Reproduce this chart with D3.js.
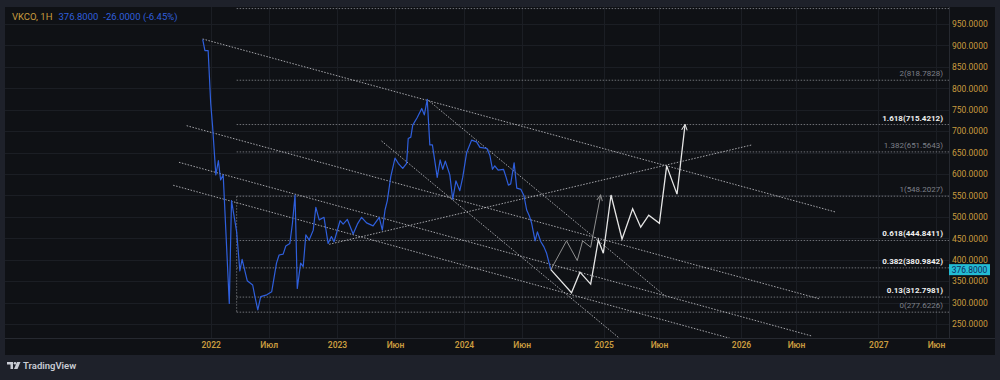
<!DOCTYPE html>
<html><head><meta charset="utf-8">
<script src="https://cdn.jsdelivr.net/npm/d3@7"></script>
<style>
body{margin:0;background:#1e212a;}
svg{display:block;font-family:Roboto,'Noto Sans',sans-serif;}
</style>
</head><body>
<svg id="c" width="1000" height="380"></svg>
<script>
// ---------- DATA ----------
const symbol = "VKCO, 1H";
const lastPrice = 376.8;
const change = "-26.0000";
const changePct = "(-6.45%)";

const priceDates = ["2021-12-07","2021-12-14","2021-12-24","2022-01-01","2022-01-07","2022-01-17","2022-01-25","2022-02-01","2022-02-09","2022-02-28",
"2022-03-07","2022-03-23","2022-04-02","2022-04-09","2022-04-25","2022-05-12","2022-05-19","2022-05-28","2022-06-06","2022-06-25",
"2022-07-09","2022-07-22","2022-07-29","2022-08-09","2022-08-16","2022-08-27","2022-09-03","2022-09-10","2022-09-16","2022-09-25",
"2022-10-02","2022-10-09","2022-10-18","2022-10-29","2022-11-05","2022-11-14","2022-11-27","2022-12-08","2022-12-17","2022-12-24",
"2022-12-31","2023-01-09","2023-01-17","2023-01-28","2023-02-12","2023-02-23","2023-03-06","2023-03-19","2023-04-05","2023-04-21",
"2023-04-29","2023-05-06","2023-05-12","2023-05-21","2023-06-01","2023-06-11","2023-06-25","2023-07-07","2023-07-12","2023-07-20",
"2023-07-26","2023-08-09","2023-08-23","2023-08-31","2023-09-09","2023-09-17","2023-09-25","2023-10-10","2023-10-19","2023-10-27",
"2023-11-04","2023-11-18","2023-11-27","2023-12-07","2023-12-19","2023-12-28","2024-01-08","2024-01-21","2024-02-03","2024-02-12",
"2024-03-01","2024-03-09","2024-03-16","2024-03-22","2024-03-31","2024-04-14","2024-04-21","2024-04-27","2024-05-03","2024-05-12",
"2024-05-19","2024-05-30","2024-06-07","2024-06-14","2024-06-21","2024-06-27","2024-07-06","2024-07-12","2024-07-21","2024-07-29",
"2024-08-05","2024-08-16"];
const priceValues = [914,888,888,765,710,598,631,586,598,298,
538,465,374,401,351,341,314,283,314,318,
325,392,411,413,432,438,485,551,333,392,
384,458,446,469,522,493,499,438,454,442,
463,491,483,494,460,483,499,486,479,499,
469,516,538,594,637,625,613,625,683,686,
714,732,753,738,774,668,668,592,633,611,
630,598,541,584,561,592,650,679,675,662,
660,644,611,619,609,611,592,574,577,626,
567,564,549,516,502,485,444,465,442,430,
415,376.8];

// projected scenarios
const mainPathDates = ["2024-08-16","2024-10-09","2024-10-31","2024-11-28","2024-12-18","2024-12-31","2025-01-21","2025-02-20","2025-03-21","2025-04-12","2025-05-04","2025-06-02","2025-06-21","2025-07-18","2025-08-08"];
const mainPathValues = [376.8,323,371,343,446,415,551,448,519,476,504,485,619,553,715.4212];
const altPathDates = ["2024-08-16","2024-09-26","2024-10-24","2024-11-07","2024-11-28","2024-12-24"];
const altPathValues = [376.8,444,398,444,429,551];

// trend lines: [startDate, startValue, endDate, endValue]
const trendLines = [
  ["2021-12-07",915,"2026-09-13",511],
  ["2021-10-18",712.7,"2026-08-02",308.4],
  ["2021-09-24",627.3,"2026-07-12",222],
  ["2021-09-06",573.7,"2025-12-03",216.7],
  ["2023-09-09",774,"2025-06-17",315.4],
  ["2023-04-27",677,"2025-02-13",216.7],
  ["2022-12-11",436,"2026-01-30",667.7]
];

// fibonacci extension
const fibStartDate = "2022-03-23";
const fibRatios = ["0","0.13","0.382","0.618","1","1.382","1.618","2","2.618"];
const fibValues = [277.6226,312.7981,380.9842,444.8411,548.2027,651.5643,715.4212,818.7828,986.0];
const fibStrong = [false,true,true,true,false,false,true,false,false];

const priceTicks = [250,300,350,400,450,500,550,600,650,700,750,800,850,900,950];
const timeTickDates = ["2022-01-01","2022-07-01","2023-01-01","2023-06-01","2024-01-01","2024-06-01","2025-01-01","2025-06-01","2026-01-01","2026-06-01","2027-01-01","2027-06-01"];
const timeTickLabels = ["2022","Июл","2023","Июн","2024","Июн","2025","Июн","2026","Июн","2027","Июн"];

// ---------- LAYOUT ----------
const parse = d3.utcParse("%Y-%m-%d");
const pane = {x0:5, y0:7, x1:949, y1:338};
const svg = d3.select("#c");

const x = d3.scaleUtc()
  .domain(timeTickDates.map(parse))
  .range([210.7,268.7,337,395,464,521.7,603.7,659,741,796,878.3,936]);
const y = d3.scaleLinear().domain([250,950]).range([324,24]);

const gold = "#c99c3f";
svg.append("rect").attr("width",1000).attr("height",380).attr("fill","#1e212a");
svg.append("rect").attr("x",5).attr("y",7).attr("width",990).attr("height",348).attr("fill","#0f1115");

svg.append("defs").html(`
  <clipPath id="pc"><rect x="${pane.x0}" y="${pane.y0}" width="${pane.x1-pane.x0}" height="${pane.y1-pane.y0}"/></clipPath>
  <marker id="arW" viewBox="0 0 10 10" refX="9" refY="5" markerWidth="7" markerHeight="7" orient="auto" markerUnits="userSpaceOnUse">
    <path d="M1,1 L9,5 L1,9" fill="none" stroke="#e6e6e6" stroke-width="1.4"/></marker>
  <marker id="arG" viewBox="0 0 10 10" refX="9" refY="5" markerWidth="7" markerHeight="7" orient="auto" markerUnits="userSpaceOnUse">
    <path d="M1,1 L9,5 L1,9" fill="none" stroke="#8f8f8f" stroke-width="1.4"/></marker>
`);

// separators
svg.append("line").attr("x1",pane.x1+0.5).attr("x2",pane.x1+0.5).attr("y1",7).attr("y2",pane.y1).attr("stroke","#262930");
svg.append("line").attr("x1",5).attr("x2",995).attr("y1",pane.y1+0.5).attr("y2",pane.y1+0.5).attr("stroke","#262930");

const g = svg.append("g").attr("clip-path","url(#pc)");

// grid
g.selectAll(".hg").data(priceTicks).join("line")
  .attr("x1",pane.x0).attr("x2",pane.x1)
  .attr("y1",d=>Math.round(y(d))+0.5).attr("y2",d=>Math.round(y(d))+0.5)
  .attr("stroke","#1b1e24");
g.selectAll(".vg").data(timeTickDates).join("line")
  .attr("x1",d=>Math.round(x(parse(d)))+0.5).attr("x2",d=>Math.round(x(parse(d)))+0.5)
  .attr("y1",pane.y0).attr("y2",pane.y1)
  .attr("stroke","#1b1e24");

// fib lines
const fx = x(parse(fibStartDate));
g.selectAll(".fib").data(fibValues).join("line")
  .attr("x1",fx).attr("x2",pane.x1)
  .attr("y1",d=>y(d)).attr("y2",d=>y(d))
  .attr("stroke","rgba(190,192,198,0.55)").attr("stroke-dasharray","1.5 1.5");
g.append("line").attr("x1",fx).attr("x2",fx)
  .attr("y1",y(fibValues[4])).attr("y2",y(fibValues[0]))
  .attr("stroke","rgba(190,192,198,0.5)").attr("stroke-dasharray","1.5 1.5");
// labels only for levels whose label fits inside the pane
const fibLabelIdx = fibValues.map((d,i)=>i).filter(i=>y(fibValues[i])-12 > pane.y0);
g.selectAll(".fibt").data(fibLabelIdx).join("text")
  .attr("x",943).attr("y",i=>y(fibValues[i])-4)
  .attr("text-anchor","end").attr("font-size","8px")
  .attr("font-weight",i=>fibStrong[i]?"700":"400")
  .attr("fill",i=>fibStrong[i]?"#f0f0f0":"#7d8089")
  .text(i=>`${fibRatios[i]}(${fibValues[i].toFixed(4)})`);

// trend lines
g.selectAll(".tl").data(trendLines).join("line")
  .attr("x1",d=>x(parse(d[0]))).attr("y1",d=>y(d[1]))
  .attr("x2",d=>x(parse(d[2]))).attr("y2",d=>y(d[3]))
  .attr("stroke","rgba(215,215,220,0.75)").attr("stroke-width",1)
  .attr("stroke-dasharray","1.5 1.5");

// price line
const line = d3.line().x(d=>x(parse(d[0]))).y(d=>y(d[1]));
g.append("path").datum(d3.zip(priceDates,priceValues))
  .attr("d",line).attr("fill","none").attr("stroke","#2f5fdc").attr("stroke-width",1.2)
  .attr("stroke-linejoin","round");

// projections
g.append("path").datum(d3.zip(altPathDates,altPathValues))
  .attr("d",line).attr("fill","none").attr("stroke","#8f8f8f").attr("stroke-width",1)
  .attr("marker-end","url(#arG)");
g.append("path").datum(d3.zip(mainPathDates,mainPathValues))
  .attr("d",line).attr("fill","none").attr("stroke","#e6e6e6").attr("stroke-width",1.3)
  .attr("marker-end","url(#arW)");

// price axis
const ya = d3.axisRight(y).tickValues(priceTicks).tickFormat(d3.format(".4f")).tickSize(0).tickPadding(0);
const yg = svg.append("g").attr("transform",`translate(952,0)`).call(ya);
yg.select(".domain").remove();
yg.selectAll("text").attr("fill",gold).attr("font-size","8.5px").attr("font-family","Roboto,sans-serif");

// last price label
svg.append("rect").attr("x",949).attr("y",y(lastPrice)-5.5).attr("width",41).attr("height",11).attr("fill","#22bcd4");
svg.append("text").attr("x",969.5).attr("y",y(lastPrice)+3).attr("text-anchor","middle")
  .attr("font-size","8.5px").attr("fill","#132a5e").text(d3.format(".4f")(lastPrice));

// time axis
const xa = d3.axisBottom(x).tickValues(timeTickDates.map(parse))
  .tickFormat((d,i)=>timeTickLabels[i]).tickSize(0).tickPadding(0);
const xg = svg.append("g").attr("transform",`translate(0,${pane.y1+4})`).call(xa);
xg.select(".domain").remove();
xg.selectAll("text").attr("fill",gold).attr("font-size","8.5px").attr("font-weight","600").attr("font-family","Roboto,sans-serif");

// legend
const lg = svg.append("text").attr("x",12).attr("y",19.5).attr("font-size","9.5px");
lg.append("tspan").attr("fill",gold).text(symbol);
lg.append("tspan").attr("fill","#2f5fdc").attr("dx",6).text(d3.format(".4f")(lastPrice));
lg.append("tspan").attr("fill","#2f5fdc").attr("dx",5).text(change + " " + changePct);

// logo
const lo = svg.append("g").attr("transform","translate(7,362)").attr("fill","#c9ccd4");
lo.append("path").attr("d","M0,0 H6 V7 H3.5 V2.5 H0 Z");
lo.append("circle").attr("cx",8).attr("cy",1.3).attr("r",1.3);
lo.append("path").attr("d","M10,0 H13.5 L10.5,7 H7 Z");
svg.append("text").attr("x",23).attr("y",369).attr("font-size","9.5px").attr("font-weight","600")
  .attr("fill","#c9ccd4").text("TradingView");
</script>
</body></html>
